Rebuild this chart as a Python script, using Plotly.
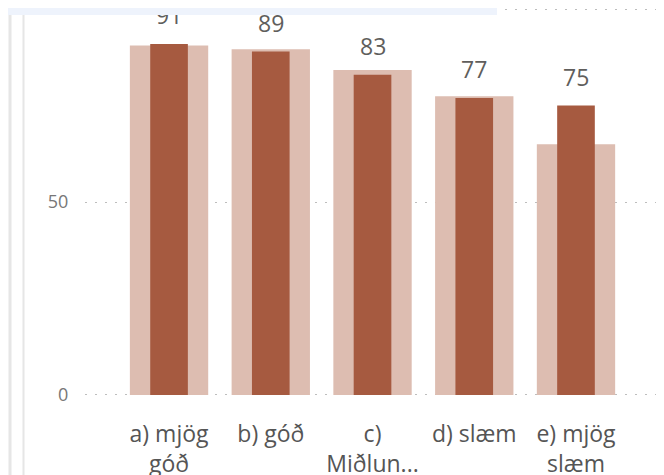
import plotly.graph_objects as go

categories = ["a) mjög<br>góð", "b) góð", "c)<br>Miðlun...", "d) slæm", "e) mjög<br>slæm"]
background_values = [90.6, 89.6, 84.2, 77.4, 65]
foreground_values = [91, 89, 83, 77, 75]
label_values = ["91", "89", "83", "77", "75"]
y_ticks = [0, 50, 100]

# page has an 8px body margin: work in reference pixels and offset by 8
OFF = 8
W, H = 664 - OFF, 475 - OFF
L, R, T, B = 85 - OFF, 0, 0, 78
pw, ph = W - L - R, H - T - B


def px(x_ref):
    return (x_ref - OFF - L) / pw


def py(y_ref):
    return (H - B - (y_ref - OFF)) / ph


FONT = "Segoe UI, Open Sans, sans-serif"

fig = go.Figure()
fig.add_trace(go.Bar(x=categories, y=background_values, width=0.77,
                     marker=dict(color="#DDBDB1", line=dict(width=0)),
                     hoverinfo="skip", showlegend=False))
fig.add_trace(go.Bar(x=categories, y=foreground_values, width=0.37,
                     marker=dict(color="#A65A40", line=dict(width=0)),
                     showlegend=False))

for c, v, t in zip(categories, foreground_values, label_values):
    fig.add_annotation(x=c, y=v, text=t, showarrow=False, yanchor="bottom",
                       yshift=11, font=dict(family=FONT, size=23, color="#605E5C"))

# light blue header strip covering the top (drawn after the labels so it covers them)
fig.add_annotation(xref="paper", yref="paper", x=px(5), y=py(0), xanchor="left", yanchor="top",
                   text=" ", showarrow=False, width=497 - 5, height=14.5,
                   bgcolor="#EEF3FC", borderpad=0, borderwidth=0,
                   font=dict(size=6))

shapes = [
    dict(type="line", xref="paper", yref="paper", x0=px(10), x1=px(10), y0=py(480), y1=py(15),
         line=dict(color="#E6E6E6", width=3), layer="above"),
    dict(type="line", xref="paper", yref="paper", x0=px(23.5), x1=px(23.5), y0=py(480), y1=py(15),
         line=dict(color="#E6E6E6", width=2), layer="above"),
    dict(type="line", xref="paper", yref="paper", x0=px(663), x1=px(663), y0=py(480), y1=py(0),
         line=dict(color="#F0F0F0", width=1), layer="above"),
]

fig.update_layout(
    width=W, height=H,
    margin=dict(l=L, r=R, t=T, b=B, autoexpand=False),
    paper_bgcolor="white", plot_bgcolor="white",
    barmode="overlay",
    shapes=shapes,
    font=dict(family=FONT),
    xaxis=dict(range=[-0.826, 4.865], showgrid=False, zeroline=False, showline=False,
               ticks="outside", ticklen=16, tickcolor="rgba(0,0,0,0)",
               tickfont=dict(family=FONT, size=23, color="#555555")),
    yaxis=dict(range=[-0.52, 100.3], tickvals=y_ticks, showgrid=True, gridcolor="#BDBDBD",
               griddash="2px,8px", gridwidth=1, zeroline=False, showline=False,
               ticks="outside", ticklen=12, tickcolor="rgba(0,0,0,0)",
               tickfont=dict(family=FONT, size=18, color="#777777")),
)

fig.write_html("out.html")
